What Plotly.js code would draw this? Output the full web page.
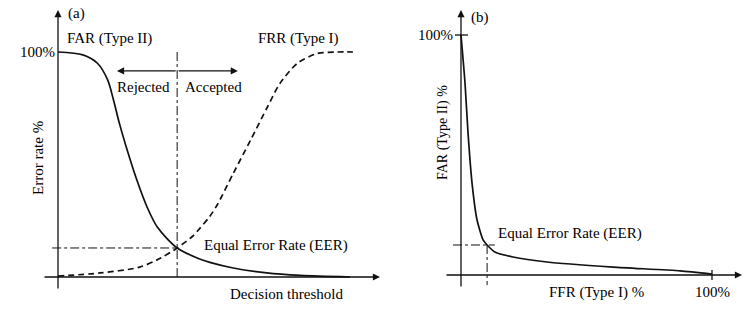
<!DOCTYPE html>
<html>
<head>
<meta charset="utf-8">
<script src="https://cdn.plot.ly/plotly-3.0.1.min.js"></script>
<style>html,body{margin:0;padding:0;background:#fff;}#chart{width:753px;height:314px;}</style>
</head>
<body>
<div id="chart"></div>
<script>
// Panel (a): error rate vs decision threshold
const thresholdFAR = [0, 8.5, 13.5, 17, 19, 21, 24, 27, 30.5, 34, 40.8, 48.5, 52, 60, 71.5, 83, 100];
const farRate      = [100, 98.7, 95, 87.6, 78.7, 68.4, 55.1, 43.1, 31.1, 22.2, 12.9, 8.0, 6.5, 4.0, 1.8, 0.7, 0];
const thresholdFRR = [0, 14.4, 28, 35, 40.8, 46, 48.5, 52, 54.5, 60, 66, 71.5, 76, 82, 88.7, 95.5, 101];
const frrRate      = [0.4, 1.8, 4.4, 8.3, 12.9, 18.0, 21.5, 27.0, 32.0, 46, 61, 75, 86, 95, 99.3, 100, 100];
const eerThresholdA = [40.8];
const eerRateA      = [12.9];

// Panel (b): FAR vs FRR
const rocFRR = [0, 1.6, 2.8, 4.4, 6.4, 8.8, 10.4, 13.5, 20.7, 34.3, 60.6, 87.3, 100];
const rocFAR = [100, 80, 59.2, 38.3, 22.9, 14.6, 12.5, 9.6, 7.5, 5.4, 3.3, 1.7, 0.4];
const eerFRRB = [10.4];
const eerFARB = [12.5];

const tickLabels = ['100%', '100%', '100%'];

const FAMILY = "'Liberation Serif', 'Times New Roman', Times, serif";
const FONT = {family: FAMILY, size: 15, color: '#000'};
const BLACK = '#111';

const ea = eerThresholdA[0], eya = eerRateA[0];
const eb = eerFRRB[0], eyb = eerFARB[0];

const traces = [
  {x: thresholdFAR, y: farRate, mode: 'lines', line: {color: BLACK, width: 1.7, shape: 'spline', smoothing: 0.8}, xaxis: 'x', yaxis: 'y', hoverinfo: 'skip'},
  {x: thresholdFRR, y: frrRate, mode: 'lines', line: {color: BLACK, width: 1.7, dash: '6px,4px', shape: 'spline', smoothing: 0.8}, xaxis: 'x', yaxis: 'y', hoverinfo: 'skip'},
  {x: [-2, ea], y: [eya, eya], mode: 'lines', line: {color: BLACK, width: 1, dash: 'dashdot'}, xaxis: 'x', yaxis: 'y', hoverinfo: 'skip'},
  {x: [ea, ea], y: [100, -1.3], mode: 'lines', line: {color: BLACK, width: 1, dash: 'dashdot'}, xaxis: 'x', yaxis: 'y', hoverinfo: 'skip'},
  {x: rocFRR, y: rocFAR, mode: 'lines', line: {color: BLACK, width: 1.7, shape: 'spline', smoothing: 0.6}, xaxis: 'x2', yaxis: 'y2', hoverinfo: 'skip'},
  {x: [-3.2, eb + 3.1], y: [eyb, eyb], mode: 'lines', line: {color: BLACK, width: 1, dash: 'dashdot'}, xaxis: 'x2', yaxis: 'y2', hoverinfo: 'skip'},
  {x: [eb, eb], y: [eyb, -4.2], mode: 'lines', line: {color: BLACK, width: 1, dash: 'dashdot'}, xaxis: 'x2', yaxis: 'y2', hoverinfo: 'skip'},
  // small tick marks
  {x: [-2.4, 2.8], y: [100, 100], mode: 'lines', line: {color: BLACK, width: 1.3}, xaxis: 'x2', yaxis: 'y2', hoverinfo: 'skip'},
  {x: [100, 100], y: [2.1, -2.1], mode: 'lines', line: {color: BLACK, width: 1.3}, xaxis: 'x2', yaxis: 'y2', hoverinfo: 'skip'}
];

const W = 753, H = 314;
const ax = (domPx, range) => ({domain: [domPx[0] / W, domPx[1] / W], range: range, visible: false, fixedrange: true});
const ay = (domPy, range) => ({domain: [1 - domPy[1] / H, 1 - domPy[0] / H], range: range, visible: false, fixedrange: true});

function arrow(xr, yr, x, y, tx, ty) {
  return {xref: xr, yref: yr, axref: xr, ayref: yr, x: x, y: y, ax: tx, ay: ty, text: '',
          showarrow: true, arrowhead: 2, arrowsize: 1.1, arrowwidth: 1.3, arrowcolor: BLACK, standoff: 0, startstandoff: 0};
}
function label(xr, yr, x, y, text, opts) {
  return Object.assign({xref: xr, yref: yr, x: x, y: y, text: text, showarrow: false, font: FONT,
                        xanchor: 'center', yanchor: 'middle'}, opts || {});
}
function plabel(px, py, text, opts) {
  return label('paper', 'paper', px / W, 1 - py / H, text, opts);
}

const annotations = [
  // panel (a) axes
  arrow('x', 'y', 110.27, 0, -5.14, 0),
  arrow('x', 'y', 0, 118.67, 0, -5.78),
  // rejected / accepted arrows
  arrow('x', 'y', 20.2, 91.6, ea, 91.6),
  arrow('x', 'y', 61.6, 91.6, ea, 91.6),
  label('x', 'y', 6.2, 117.3, '(a)'),
  label('x', 'y', 17.5, 106.2, 'FAR (Type II)'),
  label('x', 'y', 82.2, 105.8, 'FRR (Type I)'),
  label('x', 'y', 0, 100, tickLabels[0], {xanchor: 'right', xshift: -1}),
  label('x', 'y', 29.2, 84.4, 'Rejected'),
  label('x', 'y', 53.4, 84.4, 'Accepted'),
  plabel(38, 158, 'Error rate %', {textangle: -90}),
  label('x', 'y', 74.7, 14.2, 'Equal Error Rate (EER)'),
  plabel(286, 294, 'Decision threshold'),
  // panel (b) axes
  arrow('x2', 'y2', 111.95, 0, -6.37, 0),
  arrow('x2', 'y2', 0, 110.42, 0, -5.42),
  label('x2', 'y2', 7.6, 107.5, '(b)'),
  label('x2', 'y2', -2.4, 100, tickLabels[1], {xanchor: 'right'}),
  plabel(443, 133, 'FAR (Type II) %', {textangle: -90, font: Object.assign({}, FONT, {size: 14})}),
  label('x2', 'y2', 43.4, 17.5, 'Equal Error Rate (EER)'),
  plabel(596, 292, 'FFR (Type I) %'),
  plabel(712, 292, tickLabels[2])
];

const layout = {
  width: W, height: H,
  margin: {l: 0, r: 0, t: 0, b: 0},
  paper_bgcolor: '#fff', plot_bgcolor: 'rgba(0,0,0,0)',
  showlegend: false,
  xaxis: Object.assign(ax([43, 380], [-5.14, 110.27]), {anchor: 'y'}),
  yaxis: Object.assign(ay([10, 290], [-5.78, 118.67]), {anchor: 'x'}),
  xaxis2: Object.assign(ax([445, 742], [-6.37, 111.95]), {anchor: 'y2'}),
  yaxis2: Object.assign(ay([10, 288], [-5.42, 110.42]), {anchor: 'x2'}),
  annotations: annotations,
  font: FONT
};

Plotly.newPlot('chart', traces, layout, {staticPlot: true, displayModeBar: false});
</script>
</body>
</html>
